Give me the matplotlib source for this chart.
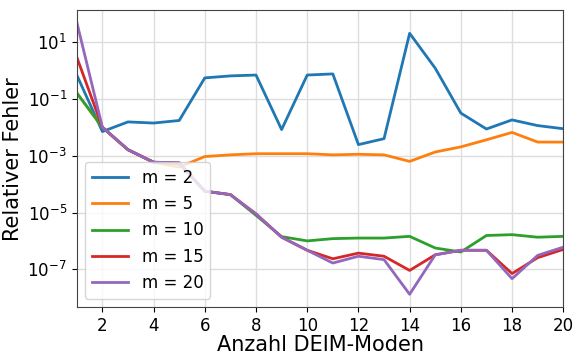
import numpy as np
import matplotlib.pyplot as plt
from matplotlib.ticker import NullLocator

# data (log10 of relative error)
modes = list(range(1, 21))
log_m2 = [-0.16, -2.15, -1.81, -1.85, -1.76, -0.26, -0.19, -0.16, -2.08, -0.16,
          -0.12, -2.61, -2.40, 1.31, 0.08, -1.50, -2.06, -1.74, -1.94, -2.05]
log_m5 = [-0.79, -2.0, -2.79, -3.23, -3.40, -3.03, -2.97, -2.93, -2.93, -2.93,
          -2.97, -2.95, -2.97, -3.20, -2.87, -2.69, -2.44, -2.18, -2.52, -2.52]
log_m10 = [-0.79, -2.0, -2.79, -3.23, -3.28, -4.25, -4.37, -5.1, -5.85, -6.0,
           -5.92, -5.90, -5.90, -5.84, -6.25, -6.39, -5.81, -5.78, -5.87, -5.84]
log_m15 = [0.47, -2.0, -2.79, -3.23, -3.25, -4.25, -4.37, -5.05, -5.87, -6.33,
           -6.63, -6.43, -6.54, -7.04, -6.49, -6.33, -6.33, -7.15, -6.59, -6.30]
log_m20 = [1.70, -2.0, -2.79, -3.23, -3.25, -4.25, -4.37, -5.05, -5.87, -6.33,
           -6.78, -6.54, -6.66, -7.88, -6.49, -6.33, -6.33, -7.33, -6.51, -6.22]
labels = ['m = 2', 'm = 5', 'm = 10', 'm = 15', 'm = 20']

fig = plt.figure(figsize=(5.73, 3.55), dpi=100)
ax = fig.add_axes([0.134, 0.135, 0.849, 0.836])

for vals, lab in zip([log_m2, log_m5, log_m10, log_m15, log_m20], labels):
    ax.plot(modes, 10.0 ** np.array(vals), linewidth=2.0, label=lab)

ax.set_yscale('log')
ax.set_xlim(1, 20)
ax.set_ylim(10 ** -8.33, 10 ** 2.12)
ax.set_xticks(range(2, 21, 2))
ax.set_yticks([1e1, 1e-1, 1e-3, 1e-5, 1e-7])
ax.yaxis.set_minor_locator(NullLocator())
ax.tick_params(labelsize=12)
ax.grid(True, color='#dddddd', linewidth=1.0)
for s in ax.spines.values():
    s.set_color('#444444')

ax.set_xlabel('Anzahl DEIM-Moden', fontsize=15, labelpad=0)
ax.set_ylabel('Relativer Fehler', fontsize=15, labelpad=3)
ax.legend(loc='lower left', fontsize=12, handlelength=2.2)

fig.savefig('out.png', dpi=100)
